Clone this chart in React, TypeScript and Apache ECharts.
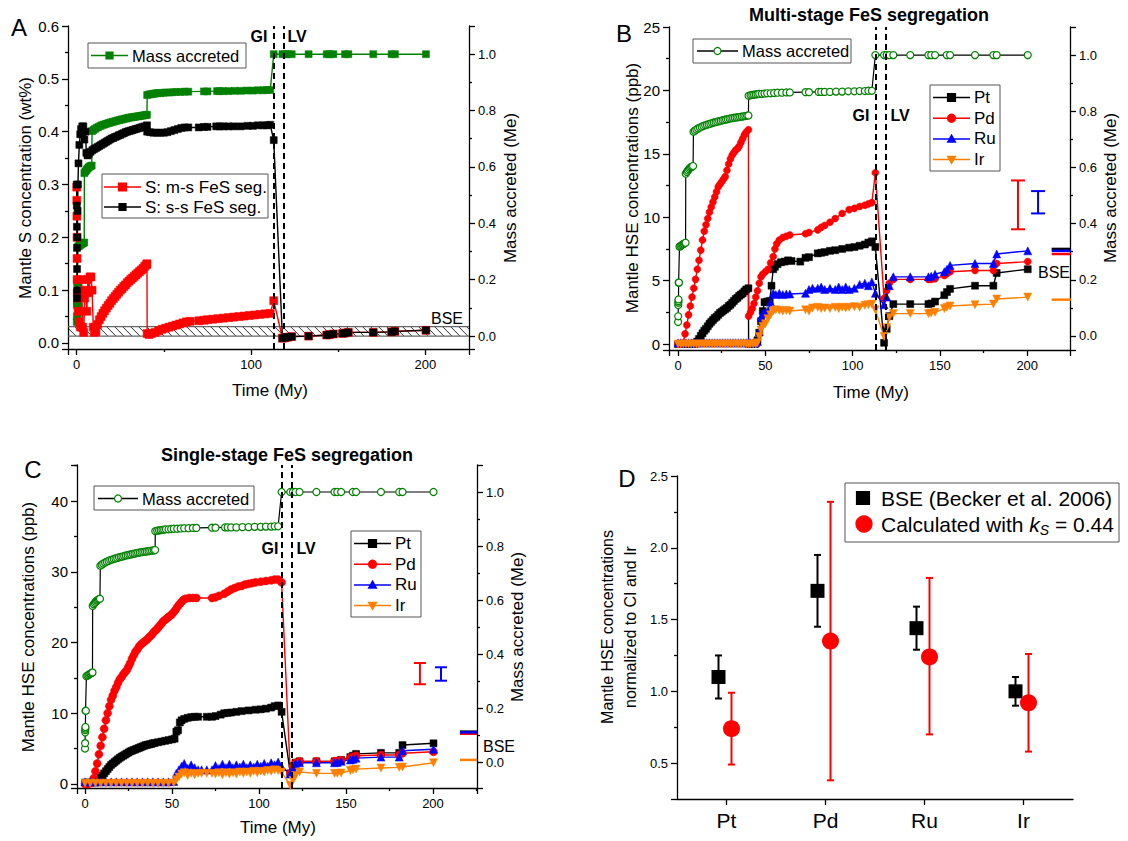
import React, { useEffect, useRef } from "react";
import * as echarts from "echarts";

const FONT = "'Liberation Sans', Arial, sans-serif";

// ---------------- shared ----------------
const eventTimes = [113, 119]; // GI, LV (My)
const massAccreted = [[0,0.05],[0.05,0.07],[0.1,0.11],[0.15,0.118],[0.2,0.124],[0.25,0.13],[0.3,0.19],[0.5,0.19],[0.8,0.318],[1.4,0.32],[2,0.323],[2.6,0.326],[3.2,0.328],[3.8,0.33],[4.3,0.332],[4.4,0.578],[5,0.584],[5.6,0.589],[6.2,0.594],[6.8,0.598],[7.4,0.601],[8,0.603],[8.6,0.605],[8.8,0.727],[9.6,0.731],[10.5,0.735],[11.5,0.739],[12.5,0.742],[13.5,0.745],[14.5,0.748],[15.5,0.75],[16.5,0.752],[17.5,0.754],[18.5,0.756],[19.5,0.758],[20.5,0.76],[21.5,0.761],[22.5,0.763],[23.5,0.765],[24.5,0.766],[25.5,0.768],[26.5,0.769],[27.5,0.771],[28.5,0.772],[29.5,0.774],[30.5,0.775],[31.5,0.776],[32.5,0.777],[33.5,0.778],[34.5,0.779],[35.5,0.78],[36.5,0.781],[37.5,0.782],[38.5,0.783],[39.5,0.784],[40.3,0.785],[40.4,0.855],[41.5,0.857],[42.5,0.858],[43.5,0.859],[44.5,0.86],[45.5,0.861],[46.5,0.862],[48,0.862],[49.5,0.863],[51,0.864],[53,0.864],[55,0.865],[57,0.866],[59.5,0.866],[62,0.867],[64,0.867],[73,0.868],[75,0.868],[80.5,0.869],[82,0.869],[84,0.869],[87,0.869],[90.5,0.87],[94,0.87],[97.5,0.871],[101,0.871],[104,0.872],[107,0.872],[109,0.873],[111,0.873],[113,1.0],[118,1.0],[119.5,1.0],[121,1.0],[123.3,1.0],[133,1.0],[143.4,1.0],[145,1.0],[147.2,1.0],[153.9,1.0],[155.8,1.0],[170.1,1.0],[180.6,1.0],[182.5,1.0],[200.3,1.0]];

// ---------------- Panel A (wt%) ----------------
const sMultiStage = [[0,0.295],[0.05,0.27],[0.1,0.24],[0.15,0.2],[0.2,0.16],[0.25,0.12],[0.3,0.095],[0.4,0.085],[0.8,0.06],[1.5,0.04],[2.2,0.03],[2.8,0.12],[3.4,0.03],[4,0.02],[4.6,0.085],[5.2,0.1],[5.8,0.06],[6.4,0.12],[7,0.095],[7.6,0.125],[8.2,0.125],[8.8,0.1],[9.5,0.03],[10.2,0.02],[11,0.022],[12,0.035],[13,0.044],[14,0.05],[15,0.056],[16,0.061],[17,0.066],[18,0.071],[19,0.075],[20,0.08],[21,0.084],[22,0.088],[23,0.092],[24,0.096],[25,0.1],[26,0.103],[27,0.107],[28,0.11],[29,0.114],[30,0.117],[31,0.12],[32,0.123],[33,0.126],[34,0.129],[35,0.132],[36,0.135],[37,0.138],[38,0.141],[39,0.145],[40,0.148],[40.3,0.15],[40.4,0.018],[41.5,0.016],[43,0.018],[45,0.02],[47,0.023],[49,0.026],[51,0.028],[53,0.03],[55,0.032],[57,0.034],[59,0.036],[61,0.038],[63,0.04],[65,0.041],[70,0.042],[73,0.043],[75,0.044],[78,0.045],[81,0.046],[84,0.047],[87,0.048],[90,0.049],[93,0.05],[96,0.051],[99,0.052],[102,0.053],[105,0.054],[108,0.055],[111,0.056],[113,0.08],[118,0.009],[119.5,0.01],[121,0.011],[123.3,0.012],[133,0.013],[143.4,0.015],[145,0.016],[147.2,0.017],[152.5,0.018],[154,0.019],[155.8,0.02],[170.1,0.02],[180.6,0.021],[182.5,0.022],[200.3,0.024]];
const sSingleStage = [[0,0.3],[0.05,0.26],[0.1,0.22],[0.15,0.18],[0.2,0.14],[0.25,0.1],[0.3,0.085],[0.4,0.2],[0.5,0.25],[0.7,0.3],[1,0.34],[1.5,0.375],[2,0.395],[2.5,0.405],[3.2,0.41],[3.8,0.41],[4.4,0.385],[5,0.4],[5.5,0.36],[6.2,0.355],[7,0.358],[8,0.362],[9,0.365],[10,0.367],[11,0.369],[12,0.371],[13,0.373],[14,0.375],[15,0.377],[16,0.379],[17,0.381],[18,0.383],[19,0.385],[20,0.387],[21,0.388],[22,0.39],[23,0.391],[24,0.393],[25,0.394],[26,0.396],[27,0.397],[28,0.399],[29,0.4],[30,0.401],[31,0.402],[32,0.403],[33,0.404],[34,0.405],[35,0.406],[36,0.407],[37,0.408],[38,0.409],[39,0.41],[40.3,0.412],[40.4,0.4],[42,0.399],[44,0.398],[46,0.398],[48,0.398],[50,0.398],[52,0.399],[54,0.401],[56,0.403],[58,0.405],[60,0.407],[62,0.408],[64,0.408],[70,0.408],[73,0.409],[75,0.409],[80,0.41],[82,0.41],[84,0.41],[87,0.41],[90,0.41],[94,0.41],[98,0.411],[101,0.411],[104,0.412],[107,0.412],[109,0.412],[111,0.413],[113,0.384],[118,0.009],[119.5,0.01],[121,0.011],[123.3,0.012],[133,0.013],[143.4,0.015],[145,0.016],[147.2,0.017],[152.5,0.018],[154,0.019],[155.8,0.02],[170.1,0.02],[180.6,0.021],[182.5,0.022],[200.3,0.024]];
const bseSulfurBand = [[0.013, 0.031]];

// ---------------- Panel B (ppb) ----------------
const ptB = [[0,0],[1.5,0],[3,0],[4.5,0],[6,0],[7.5,0],[9,0],[10,0.05],[11,0.2],[12,0.4],[13,0.65],[14,0.85],[15,1.05],[16,1.2],[17,1.4],[18,1.6],[19,1.75],[20,1.9],[21,2.05],[22,2.15],[23,2.3],[24,2.45],[25,2.55],[26,2.65],[27,2.75],[28,2.85],[29,3.0],[30,3.1],[31,3.25],[32,3.4],[33,3.55],[34,3.65],[35,3.8],[36,3.9],[37,4.0],[38,4.15],[39,4.3],[40.3,4.4],[40.4,0],[42,0],[44,0],[45.5,0.3],[46.5,0.9],[47.5,1.8],[48.5,2.6],[49.5,3.3],[51,3.35],[52.5,3.4],[53.5,4.6],[54.5,5.9],[55.5,6.1],[57,6.3],[59,6.45],[61,6.5],[63,6.6],[65,6.55],[70,6.5],[73,6.8],[75,6.85],[80,7.15],[82,7.2],[84,7.25],[87,7.35],[90,7.4],[94,7.5],[98,7.6],[101,7.65],[104,7.75],[107,7.85],[109,8.0],[111,8.1],[113,7.65],[118,0.1],[119.5,1.2],[121,2.2],[123.3,3.15],[133,3.15],[143.4,3.15],[145,3.2],[147.2,3.35],[152.5,3.85],[154,4.1],[155.8,4.35],[170.1,4.6],[180.6,4.6],[182.5,5.6],[200.3,5.9]];
const pdB = [[0,0],[1,0],[2,0],[3,0.1],[4,0.8],[5,1.5],[6,2.3],[7,3.0],[8,3.7],[9,4.4],[10,5.1],[11,5.9],[12,6.6],[13,7.4],[14,8.2],[15,8.9],[16,9.4],[17,9.9],[18,10.4],[19,10.8],[20,11.2],[21,11.6],[22,12.0],[23,12.4],[24,12.6],[25,12.8],[26,13.0],[27,13.2],[28,13.7],[29,14.2],[30,14.6],[31,14.9],[32,15.1],[33,15.3],[34,15.4],[35,15.6],[36,15.9],[37,16.2],[38,16.5],[39,16.7],[40.3,16.9],[40.4,2.2],[41.5,2.5],[42.5,2.8],[43.5,3.2],[44.5,3.7],[45.5,4.2],[46.5,4.8],[47.5,5.3],[48.5,5.5],[50,5.7],[51.5,5.9],[53,6.4],[54.5,6.9],[55.5,7.5],[56.5,7.9],[58,8.2],[60,8.4],[62,8.5],[64,8.6],[73,8.7],[75,8.8],[80,9.0],[82,9.2],[84,9.35],[87,9.6],[90,9.9],[94,10.3],[98,10.6],[101,10.7],[104,10.85],[107,10.95],[109,11.05],[111,11.15],[113,13.5],[118,3.6],[119.5,4.2],[121,4.8],[123.3,5.1],[133,5.1],[143.4,5.1],[145,5.1],[147.2,5.15],[152.5,5.4],[154,5.55],[155.8,5.7],[170.1,5.8],[180.6,5.8],[182.5,6.35],[200.3,6.5]];
const ruB = [[0,0.1],[1.5,0.1],[3,0.1],[4.5,0.1],[6,0.1],[7.5,0.1],[9,0.1],[10.5,0.1],[12,0.1],[13.5,0.1],[15,0.1],[16.5,0.1],[18,0.1],[19.5,0.1],[21,0.1],[22.5,0.1],[24,0.1],[25.5,0.1],[27,0.1],[28.5,0.1],[30,0.1],[31.5,0.1],[33,0.1],[34.5,0.1],[36,0.1],[37.5,0.1],[39,0.1],[40.3,0.15],[41.5,0.1],[43,0.1],[44.5,0.1],[45.5,0.2],[46.5,1.0],[47.5,2.1],[48.5,2.4],[50,2.5],[51.5,2.6],[53,3.3],[54.5,4.0],[56,3.9],[58,4.0],[60,3.9],[62,3.95],[64,3.95],[73,4.0],[75,4.3],[77,4.4],[80,4.4],[82,4.5],[84,4.3],[87,4.4],[90,4.3],[92,4.5],[94,4.3],[96,4.5],[98,4.3],[101,4.4],[104,4.7],[107,4.8],[109,4.6],[111,4.9],[113,4.0],[118,3.1],[119.5,3.7],[121,4.6],[123.3,5.3],[133,5.3],[143.4,5.3],[145,5.35],[147.2,5.5],[152.5,5.7],[154,5.9],[155.8,6.2],[170.1,6.35],[180.6,6.35],[182.5,7.1],[200.3,7.35]];
const irB = [[0,0],[1.5,0],[3,0],[4.5,0],[6,0],[7.5,0],[9,0],[10.5,0],[12,0],[13.5,0],[15,0],[16.5,0],[18,0],[19.5,0],[21,0],[22.5,0],[24,0],[25.5,0],[27,0],[28.5,0],[30,0],[31.5,0],[33,0],[34.5,0],[36,0],[37.5,0],[39,0],[40.3,0],[41.5,0],[43,0],[44.5,0],[45.5,0.1],[46.5,0.6],[47.5,1.1],[48.5,1.4],[50,1.6],[51.5,2.0],[53,2.3],[54.5,2.6],[56,2.7],[58,2.65],[60,2.6],[62,2.65],[64,2.6],[73,2.7],[75,2.6],[77,2.85],[80,2.9],[82,2.8],[84,2.85],[87,2.8],[90,2.9],[92,2.8],[94,2.9],[96,2.85],[98,2.9],[101,2.95],[104,2.9],[107,3.05],[109,3.1],[111,3.15],[113,2.7],[118,0.6],[119.5,1.3],[121,2.1],[123.3,2.4],[133,2.4],[143.4,2.4],[145,2.45],[147.2,2.5],[152.5,2.8],[154,2.9],[155.8,3.0],[170.1,3.1],[180.6,3.15],[182.5,3.55],[200.3,3.7]];
const bseB = [7.5, 7.1, 7.35, 3.5]; // Pt, Pd, Ru, Ir
const errPdB = [[194.7, 9.05, 12.9]];
const errRuB = [[206.2, 10.3, 12.06]];

// ---------------- Panel C (ppb) ----------------
const ptC = [[0,0.2],[2,0.2],[4,0.2],[6,0.2],[8,0.4],[9,0.9],[10,1.2],[11,1.5],[12,1.8],[13,2.1],[14,2.4],[15,2.7],[16,2.9],[17,3.1],[18,3.3],[19,3.5],[20,3.7],[21,3.85],[22,4.0],[23,4.15],[24,4.3],[25,4.45],[26,4.6],[27,4.7],[28,4.8],[29,4.9],[30,5.0],[31,5.1],[32,5.2],[33,5.3],[34,5.4],[35,5.5],[36,5.55],[37,5.6],[38,5.65],[39,5.75],[40,5.8],[42,5.9],[44,6.0],[46,6.1],[48,6.2],[50,6.3],[51.5,6.4],[52.5,7.4],[53.5,7.6],[54.5,8.7],[55.5,9.0],[57,9.2],[59,9.35],[61,9.45],[63,9.5],[65,9.5],[70,9.5],[73,9.5],[75,9.6],[78,9.8],[80,10.0],[82,10.05],[84,10.1],[87,10.2],[90,10.3],[94,10.4],[98,10.5],[101,10.55],[104,10.65],[107,10.8],[109,11.0],[111,11.1],[113,10.2],[118,1.5],[119.5,2.5],[121,3.0],[123.3,3.2],[133,3.2],[143.4,3.2],[145,3.25],[147.2,3.4],[152.5,3.8],[154,4.0],[155.8,4.25],[170.1,4.4],[180.6,4.4],[182.5,5.5],[200.3,5.75]];
const pdC = [[0,0],[2,0],[4,0.2],[5,0.8],[6,1.8],[7,2.9],[8,4.2],[9,5.4],[10,6.6],[11,7.8],[12,9.0],[13,10.0],[14,11.0],[15,11.9],[16,12.5],[17,13.2],[18,13.7],[19,14.3],[20,14.8],[21,15.1],[22,15.5],[23,15.8],[24,16.1],[25,16.6],[26,17.1],[27,17.7],[28,18.2],[29,18.7],[30,19.0],[31,19.4],[32,19.7],[33,19.9],[34,20.1],[35,20.3],[36,20.5],[37,20.8],[38,21.0],[39,21.3],[40,21.6],[41,21.8],[42,22.1],[43,22.4],[44,22.7],[45,23.0],[46,23.2],[47,23.4],[48,23.6],[49,23.8],[50,24.0],[51,24.3],[52,24.6],[53,25.0],[54,25.3],[55,25.6],[56,25.9],[57,26.1],[58,26.2],[60,26.3],[62,26.3],[64,26.3],[73,26.3],[75,26.4],[77,26.6],[80,26.9],[82,27.2],[84,27.5],[86,27.7],[88,27.9],[90,28.0],[92,28.2],[94,28.3],[96,28.4],[98,28.5],[101,28.6],[104,28.7],[107,28.8],[109,28.9],[111,28.9],[113,28.5],[118,1.5],[119.5,2.5],[121,3.0],[123.3,3.2],[133,3.2],[143.4,3.2],[145,3.25],[147.2,3.35],[152.5,3.7],[154,3.85],[155.8,4.0],[170.1,4.1],[180.6,4.1],[182.5,4.35],[200.3,4.55]];
const ruC = [[0,0.3],[3,0.3],[6,0.3],[9,0.3],[12,0.3],[15,0.3],[18,0.3],[21,0.3],[24,0.3],[27,0.3],[30,0.3],[33,0.3],[36,0.3],[39,0.3],[42,0.3],[45,0.3],[48,0.3],[51,0.35],[52.5,1.5],[54,2.0],[55.5,2.5],[57,2.9],[59,2.2],[61,2.7],[63,2.3],[65,2.0],[67,2.0],[70,2.0],[73,2.0],[75,2.6],[77,2.2],[79,2.8],[81,2.3],[83,2.8],[85,2.3],[87,2.7],[89,2.4],[91,2.8],[93,2.3],[95,2.7],[97,2.4],[99,2.8],[101,2.5],[103,2.9],[105,2.5],[107,3.0],[109,2.7],[111,3.1],[113,2.45],[118,1.4],[119.5,2.2],[121,2.9],[123.3,3.0],[133,3.0],[143.4,3.0],[145,3.05],[147.2,3.2],[152.5,3.4],[154,3.5],[155.8,3.65],[170.1,3.8],[180.6,3.8],[182.5,4.7],[200.3,4.9]];
const irC = [[0,0.1],[3,0.1],[6,0.1],[9,0.1],[12,0.1],[15,0.1],[18,0.1],[21,0.1],[24,0.1],[27,0.1],[30,0.1],[33,0.1],[36,0.1],[39,0.1],[42,0.1],[45,0.1],[48,0.1],[51,0.15],[52.5,0.6],[54,1.0],[55.5,1.4],[57,1.6],[59,1.2],[61,1.5],[63,1.3],[65,1.5],[67,1.5],[70,1.5],[73,1.5],[75,1.4],[77,1.6],[79,1.3],[81,1.6],[83,1.4],[85,1.6],[87,1.4],[89,1.7],[91,1.5],[93,1.7],[95,1.5],[97,1.8],[99,1.6],[101,1.8],[103,1.7],[105,1.9],[107,1.8],[109,2.0],[111,1.9],[113,1.7],[118,-0.2],[119.5,0.5],[121,1.2],[123.3,1.7],[133,1.5],[143.4,1.5],[145,1.5],[147.2,1.55],[152.5,1.9],[154,2.0],[155.8,2.1],[170.1,2.25],[180.6,2.35],[182.5,2.4],[200.3,3.0]];
const bseC = [7.4, 7.1, 7.3, 3.4]; // Pt, Pd, Ru, Ir
const errPdC = [[192.5, 14.1, 17.1]];
const errRuC = [[204.6, 14.6, 16.5]];

// ---------------- Panel D ----------------
const elements = ["Pt", "Pd", "Ru", "Ir"];
const bseNorm = [1.10, 1.70, 1.44, 1.00];
const bseLow = [0.95, 1.45, 1.29, 0.90];
const bseHigh = [1.25, 1.95, 1.59, 1.10];
const calcNorm = [0.74, 1.35, 1.24, 0.92];
const calcLow = [0.49, 0.38, 0.70, 0.58];
const calcHigh = [0.99, 2.32, 1.79, 1.26];

// ---------------- styling ----------------
const GREEN = "#008000";
const RED = "#ff0000";
const BLUE = "#0000ff";
const ORANGE = "#ff8000";
const BLACK = "#000000";
const elemColors = [BLACK, RED, BLUE, ORANGE];
const AXS = { color: "#000", width: 1.3 };

function vAxis(gridIndex: number, min: number, max: number, opts: any = {}) {
  const { fmt, showMax = false, split = 5, position, fontSize = 13 } = opts;
  return {
    type: "value", gridIndex, min, max, splitNumber: split, position,
    axisLine: { show: true, onZero: false, lineStyle: AXS },
    axisTick: { show: true, length: 6, lineStyle: AXS },
    minorTick: { show: true, splitNumber: 2, length: 3, lineStyle: AXS },
    splitLine: { show: false }, minorSplitLine: { show: false },
    axisLabel: { fontSize, color: "#000", fontFamily: FONT, margin: 9, formatter: fmt, showMinLabel: false, showMaxLabel: showMax },
  };
}
const f1 = (v: number) => v.toFixed(1);
const f0 = (v: number) => String(Math.round(v));

function ls(name: string, data: any, xi: number, yi: number, color: string, symbol: string, size: number, extra: any = {}) {
  return {
    type: "line", name, data, xAxisIndex: xi, yAxisIndex: yi,
    symbol, symbolSize: size, showSymbol: true, showAllSymbol: true,
    lineStyle: { color, width: 1.4 },
    itemStyle: { color, borderColor: color, borderWidth: 0.5, opacity: 1 },
    emphasis: { disabled: true }, silent: true, z: 3,
    ...extra,
  };
}
function massSeries(xi: number, yi: number, hollow: boolean) {
  const base = hollow
    ? ls("Mass accreted", massAccreted, xi, yi, BLACK, "circle", 7, { itemStyle: { color: "#fff", borderColor: GREEN, borderWidth: 1.2 }, lineStyle: { color: BLACK, width: 1.2 } })
    : ls("Mass accreted", massAccreted, xi, yi, GREEN, "rect", 7);
  return {
    ...base,
    markLine: {
      silent: true, symbol: "none", label: { show: false },
      lineStyle: { type: [6, 4], color: BLACK, width: 2 },
      data: eventTimes.map((t) => ({ xAxis: t })),
    },
  };
}
function errSeries(data: any, xi: number, yi: number, color: string, cap: number, lw: number, dx = 0, z = 4) {
  return {
    type: "custom", data, xAxisIndex: xi, yAxisIndex: yi, silent: true, z,
    renderItem: (params: any, api: any) => {
      const x = api.value(0);
      const p1 = api.coord([x, api.value(1)]);
      const p2 = api.coord([x, api.value(2)]);
      const cx = p1[0] + dx;
      const st = { stroke: color, lineWidth: lw };
      return {
        type: "group",
        children: [
          { type: "line", shape: { x1: cx, y1: p1[1], x2: cx, y2: p2[1] }, style: st },
          { type: "line", shape: { x1: cx - cap, y1: p1[1], x2: cx + cap, y2: p1[1] }, style: st },
          { type: "line", shape: { x1: cx - cap, y1: p2[1], x2: cx + cap, y2: p2[1] }, style: st },
        ],
      };
    },
  };
}
function bseSegSeries(values: number[], start: number, end: number, xi: number, yi: number) {
  return {
    type: "custom", xAxisIndex: xi, yAxisIndex: yi, silent: true, z: 4,
    data: values.map((v, i) => [start, v, end, i]),
    renderItem: (params: any, api: any) => {
      const a = api.coord([api.value(0), api.value(1)]);
      const b = api.coord([api.value(2), api.value(1)]);
      return { type: "line", shape: { x1: a[0], y1: a[1], x2: b[0], y2: b[1] }, style: { stroke: elemColors[api.value(3)], lineWidth: 2.5 } };
    },
  };
}

// ---------------- graphic helpers ----------------
function txt(x: number, y: number, text: string, size: number, opts: any = {}) {
  return {
    type: "text", x, y, rotation: opts.rot || 0, z: 120, silent: true,
    style: {
      text, fill: "#000", fontFamily: FONT, fontSize: size, fontWeight: opts.bold ? "bold" : "normal",
      align: opts.align || "center", verticalAlign: "middle",
    },
  };
}
function box(x: number, y: number, w: number, h: number) {
  return { type: "rect", z: 110, silent: true, shape: { x, y, width: w, height: h }, style: { fill: "#fff", stroke: "#555", lineWidth: 1 } };
}
function lline(x1: number, x2: number, y: number, color: string) {
  return { type: "line", z: 111, silent: true, shape: { x1, y1: y, x2, y2: y }, style: { stroke: color, lineWidth: 1.5 } };
}
function sym(kind: string, cx: number, cy: number, s: number, fill: string, stroke: string) {
  const st = { fill, stroke, lineWidth: 1.2 };
  const h = s / 2;
  if (kind === "rect") return { type: "rect", z: 112, silent: true, shape: { x: cx - h, y: cy - h, width: s, height: s }, style: st };
  if (kind === "circle") return { type: "circle", z: 112, silent: true, shape: { cx, cy, r: h }, style: st };
  if (kind === "up") return { type: "polygon", z: 112, silent: true, shape: { points: [[cx, cy - h], [cx + h, cy + h * 0.8], [cx - h, cy + h * 0.8]] }, style: st };
  return { type: "polygon", z: 112, silent: true, shape: { points: [[cx, cy + h], [cx + h, cy - h * 0.8], [cx - h, cy - h * 0.8]] }, style: st };
}
function entry(x1: number, x2: number, y: number, lineColor: string, kind: string, s: number, fill: string, stroke: string, label: string, size = 16) {
  return [lline(x1, x2, y, lineColor), sym(kind, (x1 + x2) / 2, y, s, fill, stroke), txt(x2 + 4, y, label, size, { align: "left" })];
}
function hseLegend(x: number, y: number) {
  const rows = [
    ["Pt", BLACK, "rect"], ["Pd", RED, "circle"], ["Ru", BLUE, "up"], ["Ir", ORANGE, "down"],
  ];
  const out: any[] = [box(x, y, 70, 86)];
  rows.forEach((r, i) => {
    out.push(...entry(x + 3, x + 40, y + 12.5 + i * 20.7, r[1], r[2], 8, r[1], r[1], r[0], 17));
  });
  return out;
}

const graphics: any[] = [
  // Panel letters
  txt(19, 27, "A", 24), txt(624, 33, "B", 24), txt(33, 469, "C", 24), txt(627, 478, "D", 24),
  // Titles
  txt(869, 15, "Multi-stage FeS segregation", 18, { bold: true }),
  txt(287, 455, "Single-stage FeS segregation", 18, { bold: true }),
  // Axis titles A
  txt(25, 188, "Mantle S concentration (wt%)", 17, { rot: Math.PI / 2 }),
  txt(510, 188, "Mass accreted (Me)", 17, { rot: Math.PI / 2 }),
  txt(270, 390, "Time (My)", 17),
  // Axis titles B
  txt(632, 188, "Mantle HSE concentrations (ppb)", 17, { rot: Math.PI / 2 }),
  txt(1110, 188, "Mass accreted (Me)", 17, { rot: Math.PI / 2 }),
  txt(871, 392, "Time (My)", 17),
  // Axis titles C
  txt(28, 627, "Mantle HSE concentrations (ppb)", 17, { rot: Math.PI / 2 }),
  txt(517, 627, "Mass accreted (Me)", 17, { rot: Math.PI / 2 }),
  txt(278, 827, "Time (My)", 17),
  // Axis title D
  txt(607, 627, "Mantle HSE concentrations", 16, { rot: Math.PI / 2 }),
  txt(630, 627, "normalized to CI and Ir", 16, { rot: Math.PI / 2 }),
  // GI / LV
  txt(259, 36, "GI", 16, { bold: true }), txt(297, 36, "LV", 16, { bold: true }),
  txt(861, 115, "GI", 16, { bold: true }), txt(900, 115, "LV", 16, { bold: true }),
  txt(270, 548, "GI", 16, { bold: true }), txt(306, 548, "LV", 16, { bold: true }),
  // BSE labels
  txt(447, 318, "BSE", 16), txt(1054, 272, "BSE", 16), txt(499, 746, "BSE", 16),
  // Legends A
  box(88, 43, 158, 25), ...entry(91, 128, 55.5, GREEN, "rect", 7, GREEN, GREEN, "Mass accreted", 16.5),
  box(102, 174, 166, 44), ...entry(104, 141, 187, RED, "rect", 8, RED, RED, "S: m-s FeS seg.", 17),
  ...entry(104, 141, 207, BLACK, "rect", 7, BLACK, BLACK, "S: s-s FeS seg.", 17),
  // Legends B
  box(693, 39, 158, 24), ...entry(697, 738, 51, BLACK, "circle", 7, "#fff", GREEN, "Mass accreted", 16.5),
  ...hseLegend(930, 85),
  // Legends C
  box(94, 486, 160, 24), ...entry(98, 138, 498.5, BLACK, "circle", 7, "#fff", GREEN, "Mass accreted", 16.5),
  ...hseLegend(351, 531),
  // Legend D
  box(845, 483, 274, 59),
  sym("rect", 863, 498, 13, BLACK, BLACK),
  txt(881, 498, "BSE (Becker et al. 2006)", 21, { align: "left" }),
  sym("circle", 864, 524, 16, RED, RED),
  {
    type: "text", x: 881, y: 524, z: 120, silent: true,
    style: {
      text: "{n|Calculated with }{i|k}{s|S}{n| = 0.44}",
      verticalAlign: "middle", align: "left",
      rich: {
        n: { fontSize: 21, fontFamily: FONT, fill: "#000", lineHeight: 25, verticalAlign: "middle" },
        i: { fontSize: 21, fontFamily: FONT, fill: "#000", fontStyle: "italic", lineHeight: 25, verticalAlign: "middle" },
        s: { fontSize: 14, fontFamily: FONT, fill: "#000", fontStyle: "italic", lineHeight: 14, verticalAlign: "bottom" },
      },
    },
  },
];

const option: any = {
  animation: false,
  backgroundColor: "#fff",
  grid: [
    { left: 68, top: 26, width: 401, height: 323, containLabel: false, outerBoundsMode: "none" },
    { left: 669, top: 27, width: 401, height: 323, containLabel: false, outerBoundsMode: "none" },
    { left: 77, top: 465, width: 400, height: 323, containLabel: false, outerBoundsMode: "none" },
    { left: 677, top: 476, width: 396, height: 323, containLabel: false, outerBoundsMode: "none" },
  ],
  xAxis: [
    vAxis(0, -5, 225, { fmt: f0, split: 2 }),
    vAxis(1, -5.2, 224.5, { fmt: f0 }),
    vAxis(2, -4.6, 225.3, { fmt: f0 }),
    {
      type: "category", gridIndex: 3, data: elements, boundaryGap: true,
      axisLine: { show: true, lineStyle: AXS },
      axisTick: { show: true, alignWithLabel: true, length: 6, lineStyle: AXS },
      axisLabel: { fontSize: 21, color: "#000", fontFamily: FONT, margin: 11 },
      splitLine: { show: false },
    },
  ],
  yAxis: [
    vAxis(0, -0.0114, 0.6, { fmt: f1, showMax: true, fontSize: 15 }),
    vAxis(0, -0.046, 1.1, { fmt: f1, position: "right" }),
    vAxis(1, -0.47, 25, { fmt: f0, showMax: true, fontSize: 15 }),
    vAxis(1, -0.05, 1.1, { fmt: f1, position: "right" }),
    vAxis(2, -0.57, 45.1, { fmt: f0, fontSize: 15 }),
    vAxis(2, -0.096, 1.1, { fmt: f1, position: "right" }),
    vAxis(3, 0.25, 2.5, { fmt: f1, showMax: true }),
  ],
  series: [
    // Panel A
    {
      type: "custom", xAxisIndex: 0, yAxisIndex: 0, silent: true, z: 1, data: bseSulfurBand,
      renderItem: (params: any, api: any) => {
        const cs = params.coordSys;
        const bot = api.coord([0, api.value(0)])[1];
        const top = api.coord([0, api.value(1)])[1];
        const L = cs.x, R = cs.x + cs.width, h = bot - top;
        const children: any[] = [];
        for (let xs = L - h; xs < R; xs += 8) {
          let x1 = xs, y1 = top, x2 = xs + h, y2 = bot;
          if (x1 < L) { y1 = top + (L - x1); x1 = L; }
          if (x2 > R) { y2 = bot - (x2 - R); x2 = R; }
          children.push({ type: "line", shape: { x1, y1, x2, y2 }, style: { stroke: "#000", lineWidth: 0.8 } });
        }
        children.push({ type: "line", shape: { x1: L, y1: top, x2: R, y2: top }, style: { stroke: "#666", lineWidth: 1.2 } });
        children.push({ type: "line", shape: { x1: L, y1: bot, x2: R, y2: bot }, style: { stroke: "#666", lineWidth: 1.2 } });
        return { type: "group", children };
      },
    },
    massSeries(0, 1, false),
    ls("S: m-s FeS seg.", sMultiStage, 0, 0, RED, "rect", 8),
    ls("S: s-s FeS seg.", sSingleStage, 0, 0, BLACK, "rect", 7),
    // Panel B
    massSeries(1, 3, true),
    ls("Pt", ptB, 1, 2, BLACK, "rect", 7),
    ls("Pd", pdB, 1, 2, RED, "circle", 7),
    ls("Ru", ruB, 1, 2, BLUE, "triangle", 8),
    ls("Ir", irB, 1, 2, ORANGE, "triangle", 8, { symbolRotate: 180 }),
    bseSegSeries(bseB, 214, 225, 1, 2),
    errSeries(errPdB, 1, 2, RED, 7, 2),
    errSeries(errRuB, 1, 2, BLUE, 7, 2),
    // Panel C
    massSeries(2, 5, true),
    ls("Pt", ptC, 2, 4, BLACK, "rect", 7),
    ls("Pd", pdC, 2, 4, RED, "circle", 8),
    ls("Ru", ruC, 2, 4, BLUE, "triangle", 8),
    ls("Ir", irC, 2, 4, ORANGE, "triangle", 8, { symbolRotate: 180 }),
    bseSegSeries(bseC, 215.5, 225.3, 2, 4),
    errSeries(errPdC, 2, 4, RED, 6, 2),
    errSeries(errRuC, 2, 4, BLUE, 6, 2),
    // Panel D
    errSeries(elements.map((_, i) => [i, bseLow[i], bseHigh[i]]), 3, 6, BLACK, 3.5, 2, -8, 2),
    errSeries(elements.map((_, i) => [i, calcLow[i], calcHigh[i]]), 3, 6, RED, 3.5, 2, 5, 2),
    {
      type: "scatter", xAxisIndex: 3, yAxisIndex: 6, data: bseNorm, symbol: "rect", symbolSize: 14,
      symbolOffset: [-8, 0], itemStyle: { color: BLACK, opacity: 1 }, silent: true, z: 5,
    },
    {
      type: "scatter", xAxisIndex: 3, yAxisIndex: 6, data: calcNorm, symbol: "circle", symbolSize: 17,
      symbolOffset: [5, 0], itemStyle: { color: RED, opacity: 1 }, silent: true, z: 5,
    },
  ],
  graphic: { elements: graphics },
};

export default function App() {
  const ref = useRef<HTMLDivElement>(null);
  useEffect(() => {
    const chart = echarts.init(ref.current as HTMLDivElement, null, { renderer: "svg" });
    chart.setOption(option);
    return () => chart.dispose();
  }, []);
  return (
    <div
      ref={ref}
      style={{ position: "absolute", left: 0, top: 0, width: 1128, height: 841, background: "#fff" }}
    />
  );
}
